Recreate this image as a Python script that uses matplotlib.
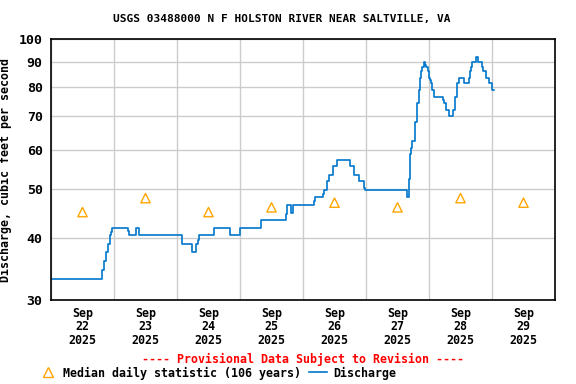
"""
USGS discharge chart for N F Holston River near Saltville, VA.
Step line of 15-minute discharge plus median daily statistic markers.
"""

import pandas as pd
import matplotlib
matplotlib.use("Agg")
import matplotlib.pyplot as plt
import matplotlib.dates as mdates
from matplotlib.lines import Line2D

START = pd.Timestamp("2025-09-22 00:00")

# discharge steps: hours after START, value (cfs)
flow_hours = [
    0, 19.25, 20.25, 21, 21.75, 22.5, 22.75, 23.25, 29.5, 29.75,
    32.5, 33.5, 50, 53.75, 55.25, 56, 56.5, 62.25, 68, 72,
    80, 89.5, 90, 91.25, 92.25, 100, 100.5, 103.5, 104, 105.25,
    105.75, 107.25, 109, 113.75, 115.5, 117.5, 119.25, 119.75, 135.5, 136.25,
    136.75, 137, 137.5, 138.5, 138.75, 139.25, 139.5, 140, 140.25, 140.75,
    141, 141.5, 142.25, 142.5, 143, 143.75, 144, 144.5, 144.75, 145.25,
    146, 149.5, 149.75, 150.5, 151.75, 153.25, 153.75, 154, 154.5, 154.75,
    155.25, 157.5, 159.25, 159.75, 160, 160.5, 161.75, 162.75, 164, 164.75,
    165.75, 167, 168, 168.75,
]
flow_cfs = [
    33.0, 34.5, 35.9, 37.5, 38.9, 40.4, 41.1, 41.8, 41.2, 40.5,
    41.8, 40.5, 38.8, 37.5, 38.8, 39.6, 40.5, 41.8, 40.5, 41.8,
    43.3, 44.6, 46.6, 44.9, 46.6, 47.4, 48.2, 49.0, 49.8, 51.9,
    53.5, 55.6, 57.3, 55.6, 53.5, 51.9, 50.3, 49.8, 48.2, 52.4,
    58.7, 60.6, 62.5, 66.3, 68.2, 72.2, 74.4, 76.6, 78.9, 83.6,
    86.2, 87.8, 89.8, 88.8, 87.8, 86.2, 83.6, 82.6, 81.6, 78.9,
    76.6, 75.5, 74.4, 72.2, 70.1, 72.2, 74.4, 76.6, 78.9, 81.6,
    83.6, 81.6, 83.6, 86.2, 87.8, 89.8, 91.9, 89.8, 87.8, 86.2,
    83.6, 81.6, 78.9, 78.9,
]

# median daily statistic, plotted at noon of each day
median_days = ["2025-09-22", "2025-09-23", "2025-09-24", "2025-09-25",
               "2025-09-26", "2025-09-27", "2025-09-28", "2025-09-29"]
median_cfs = [45, 48, 45, 46, 47, 46, 48, 47]

y_ticks = [30, 40, 50, 60, 70, 80, 90, 100]

MONO = "DejaVu Sans Mono"
BLUE = "#0077CC"
ORANGE = "#FFA500"

flow_times = START + pd.to_timedelta(flow_hours, unit="h")
median_times = pd.to_datetime(median_days) + pd.Timedelta(hours=12)

fig = plt.figure(figsize=(5.76, 3.84), dpi=100)
ax = fig.add_axes([51 / 576, 1 - 300 / 384, 504 / 576, 261 / 384])

ax.step(flow_times, flow_cfs, where="post", color=BLUE, lw=1.2)
ax.scatter(median_times, median_cfs, marker="^", s=45, facecolors="none",
           edgecolors=ORANGE, linewidths=1.0, zorder=3)

ax.set_yscale("log")
ax.set_ylim(30, 100)
ax.set_yticks(y_ticks)
ax.set_yticklabels([str(v) for v in y_ticks], fontfamily=MONO,
                   fontweight="bold", fontsize=9.5)
ax.yaxis.set_minor_locator(matplotlib.ticker.NullLocator())

ax.set_xlim(START, START + pd.Timedelta(days=8))
ax.xaxis.set_major_locator(mdates.DayLocator())
ax.xaxis.set_major_formatter(matplotlib.ticker.NullFormatter())
ax.xaxis.set_minor_locator(mdates.HourLocator(byhour=[12]))
ax.xaxis.set_minor_formatter(mdates.DateFormatter("%b\n%d\n%Y"))
for lbl in ax.xaxis.get_minorticklabels():
    lbl.set_fontfamily(MONO)
    lbl.set_fontweight("bold")
    lbl.set_fontsize(8.4)
    lbl.set_linespacing(1.05)

ax.tick_params(axis="both", which="both", length=0)
ax.tick_params(axis="x", which="minor", pad=5)
ax.tick_params(axis="y", pad=6)
ax.grid(True, which="major", color="#CCCCCC", lw=1)
ax.set_axisbelow(True)
for s in ax.spines.values():
    s.set_linewidth(1.2)
    s.set_color("black")

ax.set_ylabel("Discharge, cubic feet per second", fontfamily=MONO,
              fontweight="bold", fontsize=8.4)
ax.yaxis.set_label_coords((12 - 51) / 504, 0.5)
fig.text(0.5 * (115 + 448) / 576, 1 - 19 / 384,
         "USGS 03488000 N F HOLSTON RIVER NEAR SALTVILLE, VA",
         ha="center", va="center", fontfamily=MONO, fontweight="bold",
         fontsize=8)
fig.text(303 / 576, 1 - 359 / 384,
         "---- Provisional Data Subject to Revision ----",
         ha="center", va="center", color="red", fontfamily=MONO,
         fontweight="bold", fontsize=8.4)

# legend row, laid out by hand like the original
fig.add_artist(Line2D([48 / 576], [1 - 372 / 384], marker="^", markersize=7,
                      markerfacecolor="none", markeredgecolor=ORANGE,
                      transform=fig.transFigure))
fig.text(63 / 576, 1 - 373 / 384, "Median daily statistic (106 years)",
         ha="left", va="center", fontfamily=MONO, fontweight="bold",
         fontsize=8.4)
fig.add_artist(Line2D([309 / 576, 327 / 576], [1 - 372 / 384] * 2,
                      color=BLUE, lw=1.2, transform=fig.transFigure))
fig.text(333 / 576, 1 - 373 / 384, "Discharge", ha="left", va="center",
         fontfamily=MONO, fontweight="bold", fontsize=8.4)

fig.savefig("out.png", dpi=100)
